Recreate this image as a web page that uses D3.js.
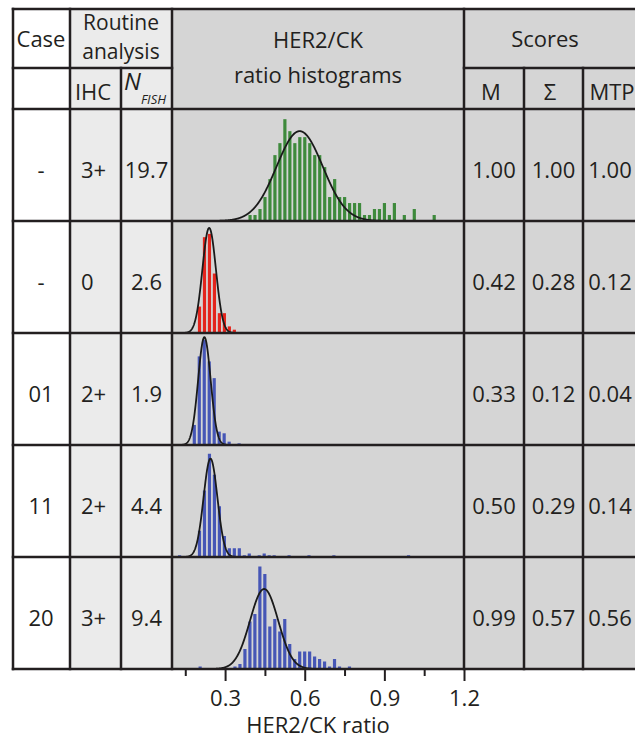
<!DOCTYPE html>
<html>
<head>
<meta charset="utf-8">
<script src="https://cdn.jsdelivr.net/npm/d3@7"></script>
<style>
  body { margin: 0; background: #fff; }
  svg { display: block; font-family: "Open Sans", "Noto Sans", sans-serif; }
</style>
</head>
<body>
<svg width="635" height="738"></svg>
<script>
// Table values
const cases = ["-", "-", "01", "11", "20"];
const ihc = ["3+", "0", "2+", "2+", "3+"];
const nFish = ["19.7", "2.6", "1.9", "4.4", "9.4"];
const scoreM = ["1.00", "0.42", "0.33", "0.50", "0.99"];
const scoreSigma = ["1.00", "0.28", "0.12", "0.29", "0.57"];
const scoreMTP = ["1.00", "0.12", "0.04", "0.14", "0.56"];

// Histograms: first bin centre + counts per bin
const binWidth = 0.01875;
const histStart = [0.394, 0.2036, 0.184, 0.1286, 0.206];
const histCounts = [
    [1, 1, 2, 4, 7, 11, 13, 17, 15, 13, 14, 14, 13, 11, 11, 9, 4, 7, 4, 4, 3, 3, 3, 1, 1, 2, 2, 3, 1, 3, 0, 1, 0, 2, 0, 0, 0, 1],
    [8, 29, 30, 18, 6, 6, 2, 1],
    [12, 53, 63, 50, 40, 8, 7, 2, 0, 1],
    [1, 0, 0, 0, 15, 38, 59, 47, 29, 12, 5, 5, 5, 1, 2, 0, 1, 2, 1, 1, 0, 0, 1, 0, 0, 0, 1, 0, 0, 0, 0, 1, 0, 0, 0, 0, 0, 0, 0, 0, 0, 0, 0, 0, 0, 0, 1],
    [1, 0, 0, 0, 0, 0, 0, 1, 2, 8, 19, 22, 41, 38, 17, 20, 15, 20, 10, 4, 7, 7, 7, 5, 4, 3, 1, 4, 1, 0, 1]
];
const histYMax = [18.7, 33.9, 67, 64, 44.8];
const histColors = ["#3e8a3c", "#e3251d", "#4656b6", "#4656b6", "#4656b6"];

// Gaussian fits
const fitMean = [0.581, 0.240, 0.222, 0.245, 0.447];
const fitSd = [0.087, 0.0255, 0.0235, 0.026, 0.053];
const fitPeak = [15, 31.8, 64.5, 56.2, 32];

const majorTicks = [0.3, 0.6, 0.9, 1.2];
const minorTicks = [0.15, 0.45, 0.75, 1.05];

// Layout of the table
const colX = [13, 70, 121, 172, 464, 524, 583, 641];
const headTop = 9, headMid = 68;
const rowY = [109, 221, 333, 445, 557, 669];
const lineColor = "#231f20";

const svg = d3.select("svg");

// Column backgrounds
svg.append("rect").attr("x", colX[0]).attr("y", headTop)
    .attr("width", colX[1] - colX[0]).attr("height", rowY[5] - headTop).attr("fill", "#ffffff");
svg.append("rect").attr("x", colX[1]).attr("y", headTop)
    .attr("width", colX[3] - colX[1]).attr("height", rowY[5] - headTop).attr("fill", "#ebebeb");
svg.append("rect").attr("x", colX[3]).attr("y", headTop)
    .attr("width", colX[7] - colX[3]).attr("height", rowY[5] - headTop).attr("fill", "#d5d5d5");

// x scale shared by all histogram panels
const x = d3.scaleLinear().domain([0.1, 1.2]).range([colX[3], colX[4]]);
const barW = (x(binWidth) - x(0)) * 0.64;

histCounts.forEach((counts, i) => {
    const y = d3.scaleLinear()
        .domain([0, histYMax[i]])
        .range([rowY[i + 1], rowY[i]]);

    const g = svg.append("g");

    g.selectAll("rect")
        .data(counts)
        .join("rect")
        .attr("x", (d, k) => x(histStart[i] + k * binWidth) - barW / 2)
        .attr("y", d => y(d))
        .attr("width", barW)
        .attr("height", d => y(0) - y(d))
        .attr("fill", histColors[i]);

    // fitted normal curve
    const xs = d3.range(fitMean[i] - 4 * fitSd[i], fitMean[i] + 4 * fitSd[i], 0.001);
    const line = d3.line()
        .x(v => x(v))
        .y(v => y(fitPeak[i] * Math.exp(-0.5 * ((v - fitMean[i]) / fitSd[i]) ** 2)));

    g.append("path")
        .datum(xs)
        .attr("fill", "none")
        .attr("stroke", "#1a1a1a")
        .attr("stroke-width", 1.8)
        .attr("d", line);
});

// Grid lines
const hLines = [
    [headTop, colX[0], colX[7]],
    [headMid, colX[0], colX[3]],
    [headMid, colX[4], colX[7]]
].concat(rowY.map(r => [r, colX[0], colX[7]]));

const vLines = [
    [colX[0], headTop], [colX[1], headTop], [colX[2], headMid], [colX[3], headTop],
    [colX[4], headTop], [colX[5], headMid], [colX[6], headMid]
];

svg.append("g").selectAll("line")
    .data(hLines)
    .join("line")
    .attr("x1", d => d[1]).attr("x2", d => d[2])
    .attr("y1", d => d[0]).attr("y2", d => d[0])
    .attr("stroke", lineColor).attr("stroke-width", 2.5)
    .attr("stroke-linecap", "square");

svg.append("g").selectAll("line")
    .data(vLines)
    .join("line")
    .attr("x1", d => d[0]).attr("x2", d => d[0])
    .attr("y1", d => d[1]).attr("y2", rowY[5])
    .attr("stroke", lineColor).attr("stroke-width", 2.5)
    .attr("stroke-linecap", "square");

// Header text
const text = (tx, ty, str, size, anchor) => svg.append("text")
    .attr("x", tx).attr("y", ty)
    .attr("text-anchor", anchor || "middle")
    .attr("fill", lineColor)
    .style("font-size", (size || 22) + "px")
    .text(str);

text(41, 47, "Case");
text(121, 30, "Routine", 21);
text(121, 59, "analysis", 21);
text(93, 100, "IHC");
text(318, 48, "HER2/CK");
text(318, 83, "ratio histograms");
text(545, 47, "Scores");
text(491, 100, "M");
text(550, 100, "Σ");
text(612, 100, "MTP");

const nLabel = svg.append("text")
    .attr("x", 124).attr("y", 90)
    .attr("fill", lineColor)
    .style("font-style", "italic");
nLabel.append("tspan").style("font-size", "24px").text("N");
nLabel.append("tspan").attr("y", 104).style("font-size", "13px").text("FISH");

// Row text
const rowText = (vals, tx, anchor) => svg.append("g").selectAll("text")
    .data(vals)
    .join("text")
    .attr("x", tx)
    .attr("y", (d, i) => (rowY[i] + rowY[i + 1]) / 2 + 13)
    .attr("text-anchor", anchor || "middle")
    .attr("fill", lineColor)
    .style("font-size", "22px")
    .text(d => d);

rowText(cases, 41);
rowText(ihc, 81, "start");
rowText(nFish, 146.5);
rowText(scoreM, 494);
rowText(scoreSigma, 553.5);
rowText(scoreMTP, 610);

// Axis under the histogram column
const axisMajor = svg.append("g")
    .attr("transform", `translate(0,${rowY[5]})`)
    .call(d3.axisBottom(x).tickValues(majorTicks).tickSize(12).tickPadding(9).tickFormat(d3.format(".1f")));
const axisMinor = svg.append("g")
    .attr("transform", `translate(0,${rowY[5]})`)
    .call(d3.axisBottom(x).tickValues(minorTicks).tickSize(7).tickFormat(""));

[axisMajor, axisMinor].forEach(a => {
    a.select(".domain").remove();
    a.selectAll("line").attr("stroke", lineColor).attr("stroke-width", 2);
    a.selectAll("text")
        .attr("fill", lineColor)
        .style("font-size", "22px")
        .style("font-family", "'Open Sans', 'Noto Sans', sans-serif");
});

text(318, 733, "HER2/CK ratio");
</script>
</body>
</html>
